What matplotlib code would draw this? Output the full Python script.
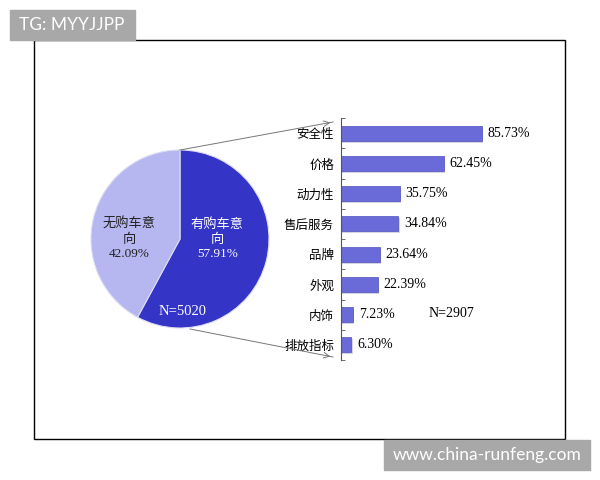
import matplotlib.pyplot as plt
from matplotlib.patches import Rectangle
import numpy as np

cjk = ["Noto Sans CJK SC", "DejaVu Sans"]
mixed = ["Liberation Serif", "Noto Sans CJK SC"]

pie_labels = ["有购车意\n向", "无购车意\n向"]
pie_values = [57.91, 42.09]
pie_n = "N=5020"

factors = ["安全性", "价格", "动力性", "售后服务", "品牌", "外观", "内饰", "排放指标"]
shares = [85.73, 62.45, 35.75, 34.84, 23.64, 22.39, 7.23, 6.30]
bar_n = "N=2907"

W, H = 600, 480
fig = plt.figure(figsize=(6, 4.8), dpi=100)


def fx(px):
    return px / W


def fy(py):
    return 1 - py / H


# outer frame
fig.patches.append(Rectangle((fx(34), fy(439)), fx(565) - fx(34), fy(40) - fy(439),
                             transform=fig.transFigure, fill=False, ec="black", lw=1))

# pie
axp = fig.add_axes([fx(91), fy(328), fx(178), 178 / H])
wedges, _ = axp.pie(pie_values, colors=["#3434c6", "#b6b6f1"], startangle=90,
                    counterclock=False, radius=1,
                    wedgeprops=dict(edgecolor="#dcdcf2", linewidth=0.8))
axp.set_xlim(-1, 1)
axp.set_ylim(-1, 1)
axp.axis("off")
axp.text(0.42, 0.0, f"{pie_labels[0]}\n{pie_values[0]:.2f}%", ha="center", va="center",
         color="white", fontsize=9.5, family=mixed, linespacing=1.25)
axp.text(-0.57, 0.0, f"{pie_labels[1]}\n{pie_values[1]:.2f}%", ha="center", va="center",
         color="#222222", fontsize=9.5, family=mixed, linespacing=1.25)
axp.text(0.03, -0.82, pie_n, ha="center", va="center", color="white", fontsize=10.5,
         family="Liberation Serif")

# bars
axb = fig.add_axes([fx(341), fy(360), 164.5 / W, 242 / H])
y = np.arange(len(factors))
axb.barh(y + 0.06, shares, height=0.5, left=0.8, color="#d4d4e4", lw=0)
axb.barh(y, shares, height=0.5, color="#6a6ad8", edgecolor="#5050c0", lw=0.5)
axb.set_xlim(0, 100)
axb.set_ylim(len(factors) - 0.5, -0.5)
axb.set_yticks(y)
axb.set_yticklabels(factors, family=cjk, fontsize=9)
axb.set_yticks(np.arange(len(factors) + 1) - 0.5, minor=True)
axb.tick_params(axis="y", which="major", length=0, pad=5)
axb.tick_params(axis="y", which="minor", length=3, direction="in", color="#555555")
axb.set_xticks([])
for s in ["top", "right", "bottom"]:
    axb.spines[s].set_visible(False)
axb.spines["left"].set_color("#555555")
for yi, v in zip(y, shares):
    axb.text(v + 3.5, yi, f"{v:.2f}%", va="center", ha="left", fontsize=10,
             family="Liberation Serif")
axb.text(53, 5.95, bar_n, va="center", ha="left", fontsize=10, family="Liberation Serif")

# connector arrows
for (x0, y0), (x1, y1) in [((180, 150), (333, 122)), ((190, 329), (333, 357))]:
    fig.add_artist(plt.Line2D([fx(x0), fx(x1)], [fy(y0), fy(y1)], transform=fig.transFigure,
                              color="#777777", lw=0.7))
    axb.annotate("", xy=(fx(x1), fy(y1)), xytext=(fx(x1 - 8), fy(y1 + (y0 - y1) * 8 / (x1 - x0))),
                 xycoords=fig.transFigure, textcoords=fig.transFigure,
                 arrowprops=dict(arrowstyle="->", color="#777777", lw=0.7))

# watermarks
fig.patches.append(Rectangle((fx(10), fy(40)), fx(125), 30 / H, transform=fig.transFigure,
                             color="#a8a8a8", zorder=5))
fig.text(fx(72), fy(25), "TG: MYYJJPP", color="white", fontsize=12.5, va="center",
         ha="center", family="Lato", zorder=6)
fig.patches.append(Rectangle((fx(384), fy(470)), fx(206), 30 / H, transform=fig.transFigure,
                             color="#a8a8a8", zorder=5))
fig.text(fx(487), fy(455), "www.china-runfeng.com", color="white", fontsize=12.5, va="center",
         ha="center", family="Lato", zorder=6)

fig.savefig("out.png", dpi=100)
